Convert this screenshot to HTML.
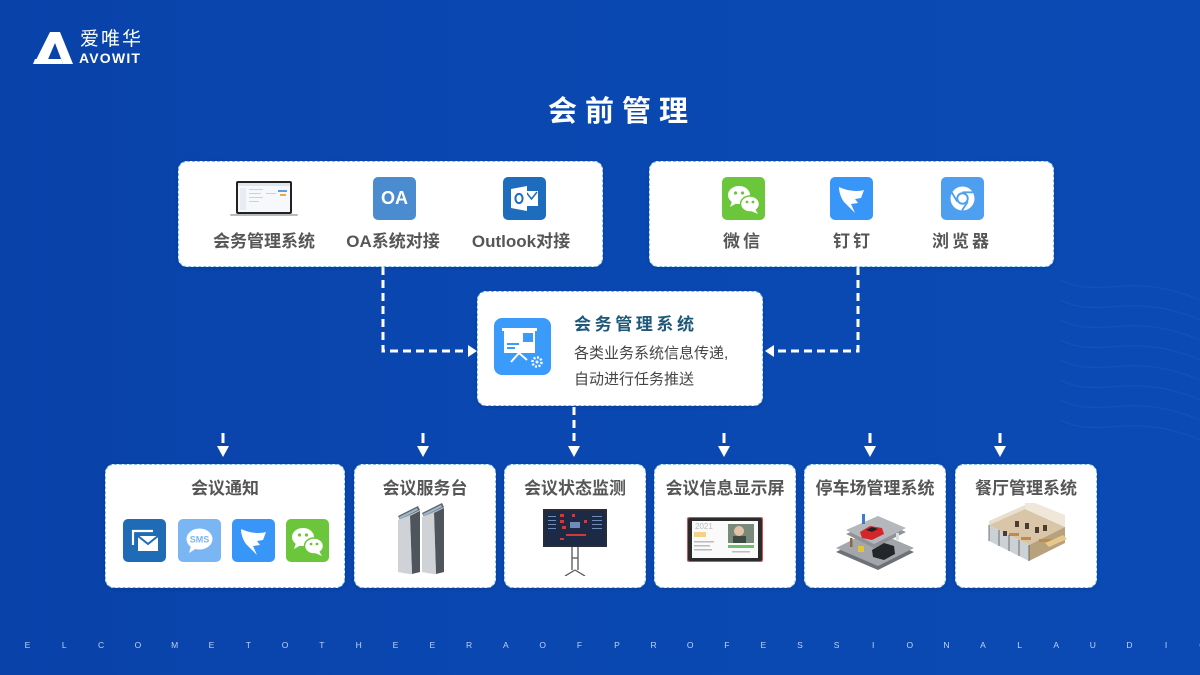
<!DOCTYPE html>
<html>
<head>
<meta charset="utf-8">
<style>
*{margin:0;padding:0;box-sizing:border-box}
html,body{width:1200px;height:675px;overflow:hidden}
body{position:relative;background:linear-gradient(90deg,#0942a9 0%,#0a47b0 40%,#0b4ab4 100%);font-family:"Liberation Sans","Noto Sans CJK SC",sans-serif}
.abs{position:absolute}
.card{position:absolute;background:#fff;border:1px dashed #7cc2ef;border-radius:9px;box-shadow:0 1px 3px rgba(0,0,0,0.15)}
.lbl{position:absolute;font-weight:700;font-size:17px;color:#565656;white-space:nowrap;transform:translateX(-50%);line-height:20px}
.btitle{position:absolute;left:0;right:0;text-align:center;font-weight:700;font-size:17px;color:#565656;line-height:20px;top:14px;white-space:nowrap}
.ic{position:absolute;border-radius:5px;overflow:hidden}
.footer span{position:absolute;top:640px;width:14px;margin-left:-7px;text-align:center;font-size:8.5px;color:#c3d2f0;font-family:"Liberation Sans",sans-serif}
</style>
</head>
<body>
<!-- subtle waves -->
<svg class="abs" style="left:0;top:0" width="1200" height="675">
  <g fill="none" stroke="#1b5cc4" stroke-width="1.2" opacity="0.45">
    <path d="M1060,280 C1100,300 1130,270 1200,300"/>
    <path d="M1060,300 C1100,320 1130,290 1200,320"/>
    <path d="M1060,320 C1100,340 1130,310 1200,340"/>
    <path d="M1060,340 C1100,360 1130,330 1200,360"/>
    <path d="M1060,360 C1100,380 1130,350 1200,380"/>
    <path d="M1060,380 C1100,400 1130,370 1200,400"/>
    <path d="M1060,400 C1100,420 1130,390 1200,420"/>
    <path d="M1060,420 C1100,440 1130,410 1200,440"/>
  </g>
</svg>

<!-- Logo -->
<svg class="abs" style="left:30px;top:28px" width="120" height="42">
  <path d="M20,4 L30,4 L43,36 L33,36 L25,15 L16,36 L4,36 Z" fill="#fff"/>
  <path d="M3,36 L33,36 L31,31 L5,31 Z" fill="#fff"/>
  <rect x="0" y="28" width="1" height="1" fill="none"/>
</svg>
<div class="abs" style="left:80px;top:26px;color:#fff;font-size:19px;letter-spacing:2px;font-family:'Noto Sans CJK SC',sans-serif;line-height:24px">爱唯华</div>
<div class="abs" style="left:79px;top:50px;color:#fff;font-size:14px;font-weight:700;letter-spacing:1.2px;line-height:16px">AVOWIT</div>

<!-- Title -->
<div class="abs" style="left:0;width:1244px;top:90px;text-align:center;color:#fff;font-size:29px;font-weight:700;letter-spacing:8px;line-height:38px;font-family:'Noto Sans CJK SC',sans-serif">会前管理</div>

<!-- Connectors -->
<svg class="abs" style="left:0;top:0" width="1200" height="675">
  <g stroke="#fff" stroke-width="3" fill="none" stroke-dasharray="8,5">
    <path d="M383,267 V351 H469"/>
    <path d="M858,267 V351 H773"/>
    <path d="M574,407 V446"/>
  </g>
  <g fill="#fff">
    <polygon points="468,345 477,351 468,357"/>
    <polygon points="774,345 765,351 774,357"/>
    <polygon points="568,446 580,446 574,457"/>
    <rect x="221.5" y="433" width="3" height="10"/>
    <polygon points="217,446 229,446 223,457"/>
    <rect x="421.5" y="433" width="3" height="10"/>
    <polygon points="417,446 429,446 423,457"/>
    <rect x="722.5" y="433" width="3" height="10"/>
    <polygon points="718,446 730,446 724,457"/>
    <rect x="868.5" y="433" width="3" height="10"/>
    <polygon points="864,446 876,446 870,457"/>
    <rect x="998.5" y="433" width="3" height="10"/>
    <polygon points="994,446 1006,446 1000,457"/>
  </g>
</svg>

<!-- Top left card -->
<div class="card" style="left:178px;top:161px;width:425px;height:106px"></div>
<svg class="abs" style="left:228px;top:178px" width="74" height="42">
  <rect x="8" y="3" width="56" height="33" rx="2" fill="#222"/>
  <rect x="10" y="5" width="52" height="29" fill="#f6f8fb"/>
  <rect x="10" y="5" width="52" height="3" fill="#dfe6f0"/>
  <rect x="12" y="10" width="6" height="22" fill="#e9edf3"/>
  <g fill="#c9d3df"><rect x="21" y="11" width="14" height="1"/><rect x="21" y="15" width="12" height="1"/><rect x="21" y="19" width="14" height="1"/><rect x="21" y="23" width="10" height="1"/><rect x="38" y="15" width="10" height="1"/></g>
  <rect x="50" y="12" width="9" height="2" fill="#5b9ee6"/>
  <rect x="52" y="16" width="6" height="2" fill="#f0a74a"/>
  <rect x="2" y="36" width="68" height="2" rx="1" fill="#b8bcc2"/>
</svg>
<div class="ic" style="left:373px;top:177px;width:43px;height:43px;background:#4b8bcf"><div style="color:#fff;font-weight:700;font-size:18px;text-align:center;line-height:43px">OA</div></div>
<svg class="ic" style="left:503px;top:177px" width="43" height="43">
  <rect width="43" height="43" fill="#1e6cbd"/>
  <rect x="22" y="14" width="13" height="15" fill="#fff"/>
  <path d="M23,15 L28.5,22 L34,15" stroke="#1e6cbd" stroke-width="1.5" fill="none"/>
  <path d="M8,12 L24,9 L24,34 L8,31 Z" fill="#fff"/>
  <ellipse cx="16" cy="21.5" rx="3.6" ry="4.6" fill="none" stroke="#1e6cbd" stroke-width="2"/>
</svg>
<div class="lbl" style="left:264px;top:232px">会务管理系统</div>
<div class="lbl" style="left:393px;top:232px">OA系统对接</div>
<div class="lbl" style="left:521px;top:232px">Outlook对接</div>

<!-- Top right card -->
<div class="card" style="left:649px;top:161px;width:405px;height:106px"></div>
<svg class="ic" style="left:722px;top:177px" width="43" height="43">
  <rect width="43" height="43" fill="#6cc63b"/>
  <ellipse cx="17" cy="18" rx="11" ry="9" fill="#fff"/>
  <path d="M10,24 L8,30 L15,26 Z" fill="#fff"/>
  <circle cx="13.5" cy="16" r="1.6" fill="#6cc63b"/><circle cx="20.5" cy="16" r="1.6" fill="#6cc63b"/>
  <ellipse cx="28" cy="27" rx="9.5" ry="8" fill="#fff" stroke="#6cc63b" stroke-width="1.5"/>
  <path d="M33,32 L36,37 L29,34 Z" fill="#fff"/>
  <circle cx="25" cy="25" r="1.4" fill="#6cc63b"/><circle cx="31" cy="25" r="1.4" fill="#6cc63b"/>
</svg>
<svg class="ic" style="left:830px;top:177px" width="43" height="43">
  <rect width="43" height="43" fill="#3796f8"/>
  <path d="M9,10 C17,14 28,15 34,13 L31,21 L25,22 L28,26 L21,27 L25,36 L14,25 C11,21 9,15 9,10 Z" fill="#fff"/>
</svg>
<svg class="ic" style="left:941px;top:177px" width="43" height="43">
  <rect width="43" height="43" fill="#4f9ff0"/>
  <circle cx="21.5" cy="21.5" r="12" fill="#fff"/>
  <circle cx="21.5" cy="21.5" r="6.2" fill="#4f9ff0"/>
  <circle cx="21.5" cy="21.5" r="4.3" fill="#fff"/>
  <path d="M21.5,15.3 L32.5,15.3 M16.2,24.6 L10.5,15 M26.8,24.6 L21,33.5" stroke="#4f9ff0" stroke-width="1.8"/>
</svg>
<div class="lbl" style="left:743px;top:232px;letter-spacing:3px">微信</div>
<div class="lbl" style="left:853px;top:232px;letter-spacing:3px">钉钉</div>
<div class="lbl" style="left:962px;top:232px;letter-spacing:3px">浏览器</div>

<!-- Center card -->
<div class="card" style="left:477px;top:291px;width:286px;height:115px"></div>
<svg class="abs" style="left:494px;top:318px" width="57" height="57">
  <rect width="57" height="57" rx="8" fill="#3a9bfb"/>
  <rect x="8" y="10" width="35" height="3" fill="#fff"/>
  <rect x="10" y="13" width="31" height="22" fill="#fff"/>
  <rect x="29" y="15" width="10" height="9" fill="#3a9bfb"/>
  <rect x="13" y="25" width="12" height="2" fill="#3a9bfb"/>
  <rect x="13" y="29" width="8" height="2" fill="#3a9bfb"/>
  <path d="M25,35 L17,44 M25,35 L33,42" stroke="#fff" stroke-width="2"/>
  <circle cx="43" cy="44" r="4.5" fill="none" stroke="#fff" stroke-width="2.5" stroke-dasharray="2,1.5"/>
  <circle cx="43" cy="44" r="1.5" fill="#fff"/>
</svg>
<div class="abs" style="left:574px;top:314px;font-size:17px;font-weight:700;color:#1f5878;letter-spacing:3.6px;line-height:22px;white-space:nowrap">会务管理系统</div>
<div class="abs" style="left:574px;top:343px;font-size:15px;color:#454545;line-height:22px;white-space:nowrap">各类业务系统信息传递,</div>
<div class="abs" style="left:574px;top:369px;font-size:15px;color:#454545;line-height:22px;white-space:nowrap">自动进行任务推送</div>

<!-- Bottom cards -->
<div class="card" style="left:105px;top:464px;width:240px;height:124px"><div class="btitle">会议通知</div></div>
<div class="card" style="left:354px;top:464px;width:142px;height:124px"><div class="btitle">会议服务台</div></div>
<div class="card" style="left:504px;top:464px;width:142px;height:124px"><div class="btitle">会议状态监测</div></div>
<div class="card" style="left:654px;top:464px;width:142px;height:124px"><div class="btitle">会议信息显示屏</div></div>
<div class="card" style="left:804px;top:464px;width:142px;height:124px"><div class="btitle">停车场管理系统</div></div>
<div class="card" style="left:955px;top:464px;width:142px;height:124px"><div class="btitle">餐厅管理系统</div></div>

<!-- Notification icons -->
<svg class="ic" style="left:123px;top:519px" width="43" height="43">
  <rect width="43" height="43" fill="#1f6bb6"/>
  <path d="M10,26 V12 H30" stroke="#fff" stroke-width="2.2" fill="none"/>
  <rect x="15" y="17" width="20" height="15" fill="#fff"/>
  <path d="M15,17 L25,25 L35,17" stroke="#1f6bb6" stroke-width="2" fill="none"/>
</svg>
<svg class="ic" style="left:178px;top:519px" width="43" height="43">
  <rect width="43" height="43" fill="#7ab6f3"/>
  <ellipse cx="21.5" cy="20" rx="13" ry="10.5" fill="#fff"/>
  <path d="M13,27 L11,34 L19,29 Z" fill="#fff"/>
  <text x="21.5" y="23.5" text-anchor="middle" font-family="Liberation Sans" font-weight="700" font-size="9" fill="#7ab6f3">SMS</text>
</svg>
<svg class="ic" style="left:232px;top:519px" width="43" height="43">
  <rect width="43" height="43" fill="#3796f8"/>
  <path d="M9,10 C17,14 28,15 34,13 L31,21 L25,22 L28,26 L21,27 L25,36 L14,25 C11,21 9,15 9,10 Z" fill="#fff"/>
</svg>
<svg class="ic" style="left:286px;top:519px" width="43" height="43">
  <rect width="43" height="43" fill="#6cc63b"/>
  <ellipse cx="17" cy="18" rx="11" ry="9" fill="#fff"/>
  <path d="M10,24 L8,30 L15,26 Z" fill="#fff"/>
  <circle cx="13.5" cy="16" r="1.6" fill="#6cc63b"/><circle cx="20.5" cy="16" r="1.6" fill="#6cc63b"/>
  <ellipse cx="28" cy="27" rx="9.5" ry="8" fill="#fff" stroke="#6cc63b" stroke-width="1.5"/>
  <path d="M33,32 L36,37 L29,34 Z" fill="#fff"/>
  <circle cx="25" cy="25" r="1.4" fill="#6cc63b"/><circle cx="31" cy="25" r="1.4" fill="#6cc63b"/>
</svg>

<!-- Kiosks -->
<svg class="abs" style="left:390px;top:502px" width="66" height="74">
  <g>
    <path d="M8,14 L28,4 L30,8 L10,18 Z" fill="#5d6670"/>
    <path d="M9,15 L27,6 L28,8 L10,17 Z" fill="#9fb6c8"/>
    <path d="M8,18 L30,8 L30,70 L20,72 L8,70 Z" fill="#b9bec4"/>
    <path d="M20,14 L30,9 L30,70 L22,72 Z" fill="#4e555d"/>
    <path d="M8,18 L20,14 L22,72 L8,70 Z" fill="#cfd3d8"/>
  </g>
  <g transform="translate(24,-3)">
    <path d="M8,14 L28,4 L30,8 L10,18 Z" fill="#5d6670"/>
    <path d="M9,15 L27,6 L28,8 L10,17 Z" fill="#9fb6c8"/>
    <path d="M8,18 L30,8 L30,73 L20,75 L8,73 Z" fill="#b9bec4"/>
    <path d="M20,14 L30,9 L30,73 L22,75 Z" fill="#4e555d"/>
    <path d="M8,18 L20,14 L22,75 L8,73 Z" fill="#cfd3d8"/>
  </g>
</svg>

<!-- Monitor -->
<svg class="abs" style="left:540px;top:506px" width="70" height="70">
  <rect x="3" y="3" width="64" height="38" fill="#2a2d36"/>
  <rect x="5" y="5" width="60" height="34" fill="#1c2a45"/>
  <g fill="#d13a3a"><rect x="20" y="8" width="4" height="3"/><rect x="20" y="14" width="4" height="3"/><rect x="22" y="20" width="4" height="3"/><rect x="26" y="28" width="20" height="2"/><rect x="32" y="8" width="3" height="3"/><rect x="44" y="14" width="3" height="3"/><rect x="20" y="32" width="4" height="2"/></g>
  <g fill="#6f8bb8"><rect x="8" y="10" width="8" height="1"/><rect x="8" y="14" width="8" height="1"/><rect x="8" y="18" width="8" height="1"/><rect x="8" y="22" width="8" height="1"/><rect x="52" y="10" width="10" height="1"/><rect x="52" y="14" width="10" height="1"/><rect x="52" y="18" width="10" height="1"/><rect x="52" y="22" width="10" height="1"/><rect x="30" y="16" width="10" height="6"/></g>
  <path d="M32,41 V64 M38,41 V64 M32,52 H38 M35,64 L25,70 M35,64 L45,70" stroke="#555" stroke-width="1.3" fill="none"/>
</svg>

<!-- Display -->
<svg class="abs" style="left:686px;top:516px" width="78" height="47">
  <rect x="1" y="1" width="76" height="45" rx="2" fill="#e05050"/>
  <rect x="2" y="2" width="74" height="43" rx="2" fill="#2b2b2b"/>
  <rect x="6" y="5" width="66" height="37" fill="#fafafa"/>
  <text x="9" y="13" font-family="Liberation Sans" font-size="8" fill="#bbb">2021</text>
  <rect x="8" y="16" width="12" height="5" fill="#f4d08a"/>
  <rect x="8" y="25" width="20" height="1.5" fill="#bbb"/>
  <rect x="8" y="29" width="16" height="1.5" fill="#bbb"/>
  <rect x="8" y="33" width="18" height="1.5" fill="#bbb"/>
  <rect x="42" y="8" width="26" height="19" fill="#7a8a7a"/>
  <circle cx="53" cy="15" r="5" fill="#e3c3a8"/>
  <rect x="47" y="20" width="13" height="7" fill="#3e4a44"/>
  <rect x="42" y="29" width="26" height="3" fill="#6cc06c"/>
  <rect x="46" y="35" width="18" height="1.5" fill="#bbb"/>
</svg>

<!-- Parking -->
<svg class="abs" style="left:832px;top:508px" width="86" height="64">
  <path d="M4,44 L40,26 L82,44 L46,62 Z" fill="#6e7177"/>
  <path d="M4,40 L40,22 L82,40 L46,58 Z" fill="#a3a6ab"/>
  <path d="M14,26 L46,12 L74,24 L42,40 Z" fill="#8f9297"/>
  <path d="M14,22 L46,8 L74,20 L42,36 Z" fill="#b4b7bc"/>
  <path d="M28,24 L38,18 L50,20 L52,26 L40,32 L30,30 Z" fill="#d3262b"/>
  <path d="M34,22 L40,19 L46,21 L40,24 Z" fill="#222"/>
  <path d="M40,42 L52,35 L62,38 L63,46 L52,52 L41,49 Z" fill="#23262b"/>
  <rect x="30" y="6" width="3" height="10" fill="#3a7bd5"/>
  <rect x="18" y="30" width="2.5" height="9" fill="#8a6a3a"/>
  <rect x="64" y="25" width="3" height="7" fill="#ddd"/>
  <rect x="26" y="38" width="6" height="6" fill="#e6c23a"/>
</svg>

<!-- Restaurant -->
<svg class="abs" style="left:985px;top:503px" width="84" height="62">
  <path d="M4,22 L40,6 L80,24 L44,42 Z" fill="#d9c5a8"/>
  <path d="M4,22 L44,42 L44,58 L4,38 Z" fill="#c7ccd0" opacity="0.9"/>
  <path d="M44,42 L80,24 L80,40 L44,58 Z" fill="#b8a27e"/>
  <path d="M40,6 L80,24 L80,12 L40,-4 Z" fill="#efe7da"/>
  <path d="M4,22 L40,6 L40,2 L4,18 Z" fill="#e9dfcf"/>
  <g fill="#4a3d30"><rect x="30" y="18" width="4" height="6"/><rect x="40" y="20" width="4" height="6"/><rect x="50" y="24" width="4" height="6"/><rect x="58" y="22" width="4" height="6"/><rect x="18" y="28" width="4" height="5"/></g>
  <g fill="#c18a4a"><rect x="24" y="30" width="10" height="3"/><rect x="36" y="34" width="10" height="3"/><rect x="54" y="36" width="14" height="3"/></g>
  <path d="M4,22 V38 M14,27 V43 M24,32 V48 M34,37 V53 M44,42 V58" stroke="#555" stroke-width="0.8"/>
  <path d="M60,40 L78,32 L82,36 L64,44 Z" fill="#e6c88a"/>
</svg>

<!-- Footer letters -->
<div class="footer">
<span style="left:27.5px">E</span><span style="left:64.3px">L</span><span style="left:101.1px">C</span><span style="left:137.9px">O</span><span style="left:174.7px">M</span><span style="left:211.5px">E</span><span style="left:248.3px">T</span><span style="left:285.1px">O</span><span style="left:321.9px">T</span><span style="left:358.7px">H</span><span style="left:395.5px">E</span><span style="left:432.3px">E</span><span style="left:469.1px">R</span><span style="left:505.9px">A</span><span style="left:542.7px">O</span><span style="left:579.5px">F</span><span style="left:617px">P</span><span style="left:653.6px">R</span><span style="left:690.2px">O</span><span style="left:726.8px">F</span><span style="left:763.4px">E</span><span style="left:800px">S</span><span style="left:836.6px">S</span><span style="left:873.2px">I</span><span style="left:909.8px">O</span><span style="left:946.4px">N</span><span style="left:983px">A</span><span style="left:1019.6px">L</span><span style="left:1056.2px">A</span><span style="left:1092.8px">U</span><span style="left:1129.4px">D</span><span style="left:1166px">I</span><span style="left:1202.6px">O</span>
</div>
</body>
</html>
